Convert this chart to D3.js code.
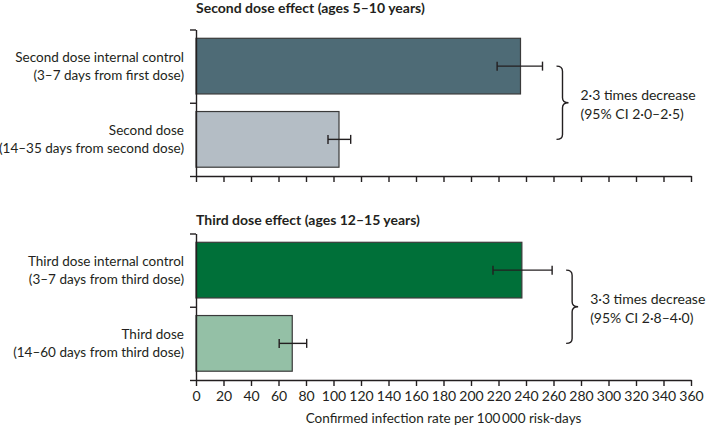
<!DOCTYPE html>
<html>
<head>
<meta charset="utf-8">
<script src="https://cdn.jsdelivr.net/npm/d3@7"></script>
<style>
  html, body { margin: 0; padding: 0; background: #fff; }
  svg { display: block; }
  text { font-family: Lato, "Open Sans", sans-serif; fill: #231f20; }
</style>
</head>
<body>
<svg id="chart" width="712" height="429"></svg>
<script>
// ---- data ----
const panelTitles = ["Second dose effect (ages 5\u201310 years)", "Third dose effect (ages 12\u201315 years)"];
const categoriesSecond = [
  ["Second dose internal control", "(3\u20137 days from first dose)"],
  ["Second dose", "(14\u201335 days from second dose)"]
];
const categoriesThird = [
  ["Third dose internal control", "(3\u20137 days from third dose)"],
  ["Third dose", "(14\u201360 days from third dose)"]
];
const valuesSecond = [236, 104];
const lowerSecond = [219, 96];
const upperSecond = [252, 112.5];
const valuesThird = [237, 70];
const lowerThird = [216, 60.5];
const upperThird = [259, 80.5];
const annotationSecond = ["2\u00b73 times decrease", "(95% CI 2\u00b70\u20132\u00b75)"];
const annotationThird = ["3\u00b73 times decrease", "(95% CI 2\u00b78\u20134\u00b70)"];
const xTicks = d3.range(0, 361, 20);
const xTitle = "Confirmed infection rate per 100\u2009000 risk-days";

// ---- styles ----
const colorsSecond = ["#4e6b76", "#b4bdc5"];
const colorsThird = ["#007039", "#94c0a6"];
const FS = 13.5;

const svg = d3.select("#chart");
const x = d3.scaleLinear().domain([0, 360]).range([196, 691]);

const panels = [
  { title: panelTitles[0], cats: categoriesSecond, vals: valuesSecond, lo: lowerSecond, hi: upperSecond,
    ann: annotationSecond, colors: colorsSecond, top: 29.5, bottom: 176, labels: false, titleY: 13 },
  { title: panelTitles[1], cats: categoriesThird, vals: valuesThird, lo: lowerThird, hi: upperThird,
    ann: annotationThird, colors: colorsThird, top: 233.5, bottom: 380, labels: true, titleY: 225 }
];

panels.forEach(p => {
  const g = svg.append("g");
  const keys = p.cats.map(c => c[0]);
  const y = d3.scaleBand().domain(keys).range([p.top, p.bottom]).paddingInner(0.24).paddingOuter(0.12);
  const ySep = d3.scaleLinear().domain([0, keys.length]).range([p.top, p.bottom]);

  // title
  g.append("text").attr("x", x(0)).attr("y", p.titleY)
    .attr("font-size", 14).attr("font-weight", "bold").text(p.title);

  // bars
  g.selectAll("rect.bar").data(keys).join("rect")
    .attr("class", "bar")
    .attr("x", x(0))
    .attr("y", k => y(k))
    .attr("width", (k, i) => x(p.vals[i]) - x(0))
    .attr("height", y.bandwidth())
    .attr("fill", (k, i) => p.colors[i])
    .attr("stroke", "#3a3a3a").attr("stroke-width", 1.2);

  // error bars
  const eb = g.selectAll("g.eb").data(keys).join("g").attr("class", "eb")
    .attr("transform", k => `translate(0,${y(k) + y.bandwidth() / 2})`)
    .attr("stroke", "#231f20").attr("stroke-width", 1.4);
  eb.append("line").attr("x1", (k, i) => x(p.lo[i])).attr("x2", (k, i) => x(p.hi[i]));
  eb.append("line").attr("x1", (k, i) => x(p.lo[i])).attr("x2", (k, i) => x(p.lo[i])).attr("y1", -4.5).attr("y2", 4.5);
  eb.append("line").attr("x1", (k, i) => x(p.hi[i])).attr("x2", (k, i) => x(p.hi[i])).attr("y1", -4.5).attr("y2", 4.5);

  // category labels
  const lab = g.selectAll("text.cat").data(p.cats).join("text").attr("class", "cat")
    .attr("text-anchor", "end").attr("font-size", FS)
    .attr("transform", c => `translate(184,${y(c[0]) + y.bandwidth() / 2})`);
  lab.append("tspan").attr("x", 0).attr("y", -4).text(c => c[0]);
  lab.append("tspan").attr("x", 0).attr("y", 14).text(c => c[1]);

  // y axis
  const yAxis = d3.axisLeft(ySep).tickValues(d3.range(0, keys.length + 1)).tickSize(6).tickSizeOuter(0).tickFormat("");
  const ya = g.append("g").attr("transform", `translate(${x(0)},0)`).call(yAxis);
  ya.selectAll("path,line").attr("stroke", "#231f20").attr("stroke-width", 1.4);

  // x axis
  const xAxis = d3.axisBottom(x).tickValues(xTicks).tickSize(6).tickSizeOuter(0).tickPadding(5)
    .tickFormat(p.labels ? d3.format("d") : "");
  const xa = g.append("g").attr("transform", `translate(0,${p.bottom})`).call(xAxis);
  xa.selectAll("path,line").attr("stroke", "#231f20").attr("stroke-width", 1.4);
  xa.selectAll("text").attr("font-size", 14).attr("font-family", "Lato, 'Open Sans', sans-serif").attr("fill", "#231f20");

  // brace
  const maxHi = d3.max(p.hi);
  const bx = x(maxHi) + 14;
  const yA = y(keys[0]) + y.bandwidth() / 2;
  const yB = y(keys[keys.length - 1]) + y.bandwidth() / 2;
  const yM = (yA + yB) / 2;
  const w = 12, r = 5;
  const mid = bx + w / 2;
  const path = `M${bx},${yA} Q${mid},${yA} ${mid},${yA + r} L${mid},${yM - r} Q${mid},${yM} ${bx + w},${yM}`
    + ` Q${mid},${yM} ${mid},${yM + r} L${mid},${yB - r} Q${mid},${yB} ${bx},${yB}`;
  g.append("path").attr("d", path).attr("fill", "none").attr("stroke", "#231f20").attr("stroke-width", 1.4);

  const ann = g.append("text").attr("font-size", 14).attr("transform", `translate(${bx + 24},${yM})`);
  ann.append("tspan").attr("x", 0).attr("y", -3).text(p.ann[0]);
  ann.append("tspan").attr("x", 0).attr("y", 16).text(p.ann[1]);

  if (p.labels) {
    g.append("text").attr("x", (x(0) + x(360)) / 2).attr("y", 423).attr("text-anchor", "middle")
      .attr("font-size", FS).text(xTitle);
  }
});
</script>
</body>
</html>
